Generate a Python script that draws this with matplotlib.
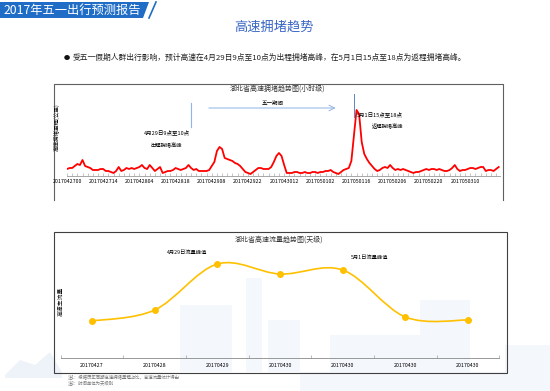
import numpy as np
import matplotlib
matplotlib.use("Agg")
import matplotlib.pyplot as plt
from matplotlib.path import Path
from matplotlib.patches import PathPatch, Polygon, Rectangle

plt.rcParams['font.family'] = ['Noto Sans CJK SC', 'DejaVu Sans']

# hourly congestion index, 2017-04-27 00h .. 2017-05-03 23h
congestion = [7, 8, 8, 10, 12, 11, 16, 10, 9, 8, 6, 6,
              6, 7, 7, 5, 5, 4, 3, 5, 9, 5, 6, 8,
              7, 8, 7, 8, 9, 11, 8, 7, 11, 8, 5, 7,
              9, 3, 4, 5, 5, 6, 8, 7, 6, 7, 8, 11,
              8, 6, 7, 5, 5, 5, 5, 6, 10, 14, 25, 29,
              27, 18, 17, 16, 15, 13, 12, 10, 7, 4, 3, 2,
              4, 6, 8, 8, 7, 7, 7, 9, 14, 20, 23, 20,
              11, 3, 3, 3, 4, 4, 3, 3, 4, 3, 3, 4,
              4, 3, 4, 4, 5, 5, 6, 4, 3, 2, 4, 6,
              7, 8, 15, 40, 66, 62, 34, 22, 17, 13, 10, 7,
              5, 6, 8, 9, 8, 11, 8, 6, 7, 6, 7, 6,
              5, 4, 3, 4, 4, 5, 6, 7, 6, 7, 7, 6,
              7, 6, 5, 5, 6, 8, 11, 7, 5, 6, 6, 7,
              8, 8, 7, 8, 9, 9, 5, 6, 6, 5, 7, 9]
hour_labels = ['2017042700', '2017042714', '2017042804', '2017042818',
               '2017042908', '2017042922', '2017043012', '2017050102',
               '2017050116', '2017050206', '2017050220', '2017050310']
label_step = 14

# daily flow
days = ['20170427', '20170428', '20170429', '20170430',
        '20170430', '20170430', '20170430']
flow = [37, 48, 94, 84, 88, 41, 38]

W, H = 550, 391
fig = plt.figure(figsize=(5.5, 3.91), dpi=100)


def box(x0, y0, x1, y1):
    # pixel box -> figure fraction [left, bottom, width, height]
    return [x0 / W, (H - y1) / H, (x1 - x0) / W, (y1 - y0) / H]


# background layer in pixel coordinates
bg = fig.add_axes([0, 0, 1, 1], zorder=0)
bg.set_xlim(0, W)
bg.set_ylim(H, 0)
bg.axis('off')

# faint city watermark
wm = '#F4F7FC'
for x0, y0, x1, y1 in [(180, 305, 232, 372), (246, 278, 262, 372),
                       (268, 320, 300, 372), (330, 335, 420, 391),
                       (420, 300, 470, 372), (505, 345, 550, 391),
                       (300, 372, 550, 391)]:
    bg.add_patch(Rectangle((x0, y0), x1 - x0, y1 - y0, color=wm, lw=0))
bg.add_patch(Polygon([(5, 375), (20, 360), (35, 365), (50, 352), (62, 372), (62, 378), (5, 378)],
                     closed=True, color='#EEF3FA', lw=0))

# header
bg.add_patch(Polygon([(0, 2), (149, 2), (143, 18), (0, 18)], closed=True,
                     color='#1F6DC6', lw=0))
bg.plot([156, 149], [2, 18], color='#1F6DC6', lw=1.2)
bg.text(72, 10, '2017年五一出行预测报告', color='white', fontsize=8.8,
        ha='center', va='center')

bg.text(274, 27, '高速拥堵趋势', color='#3A66C4', fontsize=9.5,
        ha='center', va='center')

bg.text(67, 58, '●', fontsize=4.5, ha='center', va='center', color='#111111')
bg.text(73, 58, '受五一假期人群出行影响，预计高速在4月29日9点至10点为出程拥堵高峰，'
        '在5月1日15点至18点为返程拥堵高峰。', fontsize=5.6, ha='left',
        va='center', color='#222222')

# frames
bg.plot([54, 54, 503, 503], [200, 84, 84, 200], color='#606060', lw=0.8)
bg.add_patch(Rectangle((54, 232), 453, 141, fill=False, ec='#404040', lw=0.8))

bg.text(277, 89, '湖北省高速拥堵趋势图(小时级)', fontsize=5, ha='center',
        va='center', color='#333333')
bg.text(279, 240, '湖北省高速流量趋势图(天级)', fontsize=5, ha='center',
        va='center', color='#333333')
bg.text(57, 127, '高速拥堵里程(公里)', fontsize=4, rotation=90,
        ha='center', va='center', color='#111111')
bg.text(61, 301, '高速车流量', fontsize=4.2, rotation=90,
        ha='center', va='center', color='#111111')

bg.text(68, 377.5, '注1：根据历年同期高速拥堵里程占比，高速流量统计得出',
        fontsize=3.2, ha='left', va='center', color='#777777')
bg.text(68, 384, '注2：时间单位为天级别', fontsize=3.2, ha='left',
        va='center', color='#777777')

# ---- hourly chart ----
ax1 = fig.add_axes(box(67, 90, 500, 176), zorder=2)
ax1.patch.set_alpha(0)
hours = np.arange(len(congestion))
ax1.plot(hours, congestion, color='#FF0000', lw=1.3)
ax1.set_xlim(0, 167.5)
ax1.set_ylim(0, 86)
for s in ['top', 'right', 'left']:
    ax1.spines[s].set_visible(False)
ax1.spines['bottom'].set_color('#999999')
ax1.spines['bottom'].set_linewidth(0.6)
ax1.set_yticks([])
ax1.set_xticks(np.arange(len(hour_labels)) * label_step)
ax1.set_xticklabels(hour_labels, fontsize=3.8)
ax1.set_xticks(np.arange(0, 168, 2), minor=True)
ax1.tick_params(axis='x', which='both', direction='in', length=2,
                width=0.4, color='#999999', pad=2.5)

ax1.plot([48, 48], [49, 73], color='#8EB4E3', lw=0.8, clip_on=False)
ax1.plot([111, 111], [59, 82], color='#5B87C5', lw=0.7, clip_on=False)
ax1.annotate('', xy=(105, 68), xytext=(53.8, 68),
             arrowprops=dict(arrowstyle='->', color='#8EB4E3', lw=0.7),
             annotation_clip=False)
ax1.text(79.7, 73, '五一期间', fontsize=4, ha='center', va='center')
ax1.text(38.7, 44, '4月29日9点至10点', fontsize=4, ha='center', va='center')
ax1.text(38.3, 30, '出程拥堵高峰', fontsize=3.8, ha='center', va='center')
ax1.text(121, 62, '5月1日15点至18点', fontsize=4, ha='center', va='center')
ax1.text(124, 50, '返程拥堵高峰', fontsize=3.8, ha='center', va='center')

# ---- daily chart ----
ax2 = fig.add_axes(box(60.7, 240, 499.3, 358), zorder=2)
ax2.patch.set_alpha(0)
xs = np.arange(len(flow), dtype=float)
ys = np.array(flow, dtype=float)
# smoothed line like Excel: cubic bezier through the points
px = np.concatenate([[xs[0]], xs, [xs[-1]]])
py = np.concatenate([[ys[0]], ys, [ys[-1]]])
verts = [(xs[0], ys[0])]
codes = [Path.MOVETO]
for i in range(1, len(px) - 2):
    c1 = (px[i] + (px[i + 1] - px[i - 1]) / 6, py[i] + (py[i + 1] - py[i - 1]) / 6)
    c2 = (px[i + 1] - (px[i + 2] - px[i]) / 6, py[i + 1] - (py[i + 2] - py[i]) / 6)
    verts += [c1, c2, (px[i + 1], py[i + 1])]
    codes += [Path.CURVE4] * 3
ax2.add_patch(PathPatch(Path(verts, codes), fill=False, ec='#FFC000', lw=1.2))
ax2.plot(xs, ys, 'o', color='#FFC000', ms=4, mec='#FFC000')
ax2.set_xlim(-0.5, len(flow) - 0.5)
ax2.set_ylim(0, 118)
for s in ['top', 'right', 'left']:
    ax2.spines[s].set_visible(False)
ax2.spines['bottom'].set_color('#888888')
ax2.spines['bottom'].set_linewidth(0.6)
ax2.set_yticks([])
ax2.set_xticks(xs)
ax2.set_xticklabels(days, fontsize=3.8)
ax2.set_xticks(np.arange(-0.5, len(flow), 1), minor=True)
ax2.tick_params(axis='x', which='major', length=0, pad=3.5)
ax2.tick_params(axis='x', which='minor', direction='in', length=2,
                width=0.4, color='#888888')
ax2.text(1.52, 106, '4月29日流量峰值', fontsize=3.8, ha='center', va='center')
ax2.text(4.43, 101, '5月1日流量峰值', fontsize=3.8, ha='center', va='center')

fig.savefig('out.png', dpi=100)
